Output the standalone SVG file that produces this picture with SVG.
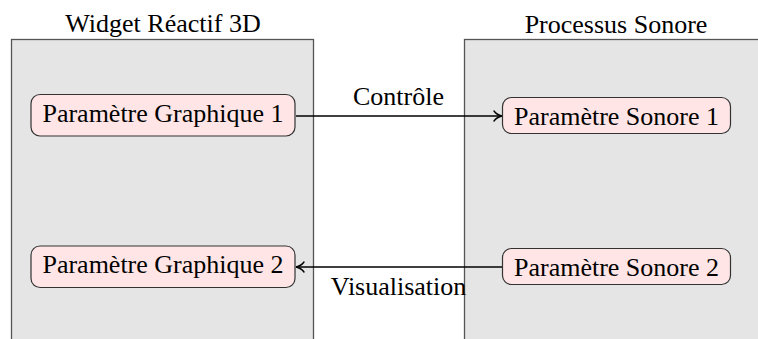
<svg xmlns="http://www.w3.org/2000/svg" width="758" height="339" viewBox="0 0 758 339">
<style>
text{font-family:"Liberation Serif","Times New Roman",Tinos,"Nimbus Roman","DejaVu Serif",serif;font-size:26px;fill:#000}
.panel{fill:#e5e5e5;stroke:#555;stroke-width:1.3}
.node{fill:#ffe5e5;stroke:#333;stroke-width:1.2}
.conn{stroke:#000;stroke-width:1.6;fill:none}
</style>
<defs>
<marker id="to" markerUnits="userSpaceOnUse" markerWidth="14" markerHeight="14" refX="11" refY="7" orient="auto">
<path d="M3,2 Q6,6 11,7 Q6,8 3,12" fill="none" stroke="#000" stroke-width="1.4" stroke-linecap="round"/>
</marker>
</defs>
<rect width="758" height="339" fill="#fff"/>
<g id="widget">
<rect class="panel" x="11.5" y="39.5" width="302" height="310"/>
<text x="163" y="32" text-anchor="middle" font-family="Liberation Serif">Widget Réactif 3D</text>
</g>
<g id="processus">
<rect class="panel" x="464.5" y="39.5" width="310" height="310"/>
<text x="616" y="33" text-anchor="middle" font-family="Liberation Serif">Processus Sonore</text>
</g>
<g id="connectors">
<line class="conn" x1="296" y1="116" x2="502" y2="116" marker-end="url(#to)"/>
<line class="conn" x1="502" y1="267" x2="296" y2="267" marker-end="url(#to)"/>
<text x="398.5" y="105" text-anchor="middle" font-family="Liberation Serif">Contrôle</text>
<text x="398.5" y="295" text-anchor="middle" font-family="Liberation Serif">Visualisation</text>
</g>
<g id="g1">
<rect class="node" x="31" y="94.5" width="264" height="41.5" rx="9"/>
<text x="163" y="121.5" text-anchor="middle" font-family="Liberation Serif">Paramètre Graphique 1</text>
</g>
<g id="g2">
<rect class="node" x="31" y="246" width="264" height="41.5" rx="9"/>
<text x="163" y="272.5" text-anchor="middle" font-family="Liberation Serif">Paramètre Graphique 2</text>
</g>
<g id="s1">
<rect class="node" x="502.5" y="97.5" width="228" height="36" rx="9"/>
<text x="616.5" y="124.5" text-anchor="middle" font-family="Liberation Serif">Paramètre Sonore 1</text>
</g>
<g id="s2">
<rect class="node" x="502.5" y="248.5" width="228" height="36" rx="9"/>
<text x="616.5" y="275.5" text-anchor="middle" font-family="Liberation Serif">Paramètre Sonore 2</text>
</g>
</svg>
